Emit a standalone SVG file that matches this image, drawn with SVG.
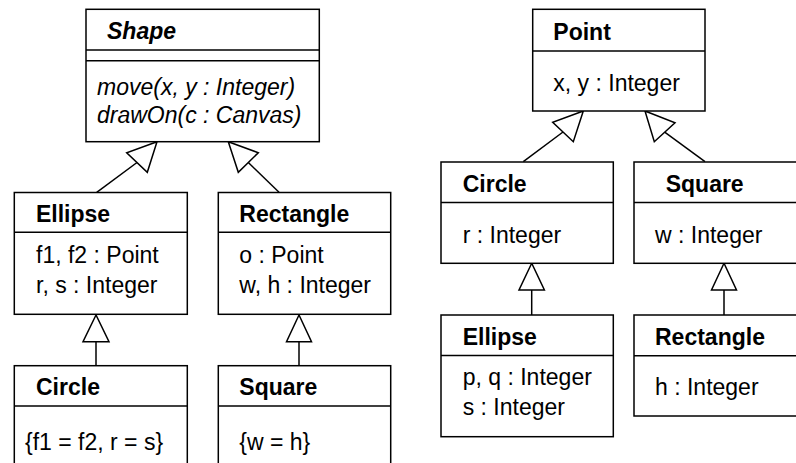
<svg xmlns="http://www.w3.org/2000/svg" width="796" height="463" viewBox="0 0 796 463">
<style>
.box{fill:#fff;stroke:#000;stroke-width:1.5}
.ln{stroke:#000;stroke-width:1.5;fill:none}
.tri{fill:#fff;stroke:#000;stroke-width:1.5;stroke-linejoin:miter}
text{font-family:"Liberation Sans",Arial,sans-serif;font-size:23px;fill:#000}
.t{font-weight:bold}
.i{font-style:italic}
</style>
<rect width="796" height="463" fill="#fff"/>
<g id="connectors">
<line class="ln" x1="137" y1="162.5" x2="96.7" y2="192.3"/>
<polygon class="tri" points="157,141.7 126.7,152.7 147.3,172.3"/>
<line class="ln" x1="248.3" y1="162.5" x2="279" y2="192.3"/>
<polygon class="tri" points="228.3,141.7 258.3,152.7 238.3,172.3"/>
<line class="ln" x1="96" y1="341.7" x2="96" y2="365.7"/>
<polygon class="tri" points="96,315 83,341.7 109,341.7"/>
<line class="ln" x1="299" y1="341.7" x2="299" y2="365.7"/>
<polygon class="tri" points="299,315 286.5,341.7 311.5,341.7"/>
<line class="ln" x1="563" y1="132" x2="523.3" y2="161.7"/>
<polygon class="tri" points="583.3,111 552.7,122.3 573.3,141.7"/>
<line class="ln" x1="664.7" y1="132.2" x2="705" y2="161.7"/>
<polygon class="tri" points="645,111 675,122.7 654.3,141.7"/>
<line class="ln" x1="531.7" y1="290" x2="531.7" y2="315"/>
<polygon class="tri" points="531.7,263.3 519,290 544.4,290"/>
<line class="ln" x1="724" y1="290" x2="724" y2="315"/>
<polygon class="tri" points="724,263.3 711.5,290 736.5,290"/>
</g>
<g id="shape">
<rect class="box" x="86" y="9.3" width="233.3" height="132.4"/>
<line class="ln" x1="86" y1="50" x2="319.3" y2="50"/>
<line class="ln" x1="86" y1="60.7" x2="319.3" y2="60.7"/>
<text class="t i" x="107" y="39">Shape</text>
<text class="i" x="97" y="95">move(x, y : Integer)</text>
<text class="i" x="97" y="123">drawOn(c : Canvas)</text>
</g>
<g id="ellipse-left">
<rect class="box" x="14.3" y="192.5" width="173" height="121.8"/>
<line class="ln" x1="14.3" y1="232.3" x2="187.3" y2="232.3"/>
<text class="t" x="36" y="221.7">Ellipse</text>
<text x="36" y="263.3">f1, f2 : Point</text>
<text x="36" y="293.3">r, s : Integer</text>
</g>
<g id="rectangle-left">
<rect class="box" x="218.3" y="192.5" width="172.4" height="121.8"/>
<line class="ln" x1="218.3" y1="232.3" x2="390.7" y2="232.3"/>
<text class="t" x="239.3" y="221.7">Rectangle</text>
<text x="239.3" y="263.3">o : Point</text>
<text x="239.3" y="293.3">w, h : Integer</text>
</g>
<g id="circle-left">
<rect class="box" x="14.3" y="365.7" width="173" height="110"/>
<line class="ln" x1="14.3" y1="406" x2="187.3" y2="406"/>
<text class="t" x="36" y="395">Circle</text>
<text x="25" y="450">{f1 = f2, r = s}</text>
</g>
<g id="square-left">
<rect class="box" x="218.3" y="365.7" width="172.4" height="110"/>
<line class="ln" x1="218.3" y1="406" x2="390.7" y2="406"/>
<text class="t" x="239.3" y="395">Square</text>
<text x="239.3" y="450">{w = h}</text>
</g>
<g id="point">
<rect class="box" x="532.7" y="9.3" width="172.3" height="101.7"/>
<line class="ln" x1="532.7" y1="51" x2="705" y2="51"/>
<text class="t" x="553.3" y="40">Point</text>
<text x="553.3" y="90.7">x, y : Integer</text>
</g>
<g id="circle-right">
<rect class="box" x="441" y="162" width="172.3" height="101.3"/>
<line class="ln" x1="441" y1="202.5" x2="613.3" y2="202.5"/>
<text class="t" x="462.7" y="191.7">Circle</text>
<text x="462.7" y="243.3">r : Integer</text>
</g>
<g id="square-right">
<rect class="box" x="634" y="162" width="172.3" height="101.3"/>
<line class="ln" x1="634" y1="202.5" x2="806" y2="202.5"/>
<text class="t" x="665.7" y="191.7">Square</text>
<text x="655" y="243.3">w : Integer</text>
</g>
<g id="ellipse-right">
<rect class="box" x="441" y="315" width="172.3" height="121.7"/>
<line class="ln" x1="441" y1="355.5" x2="613.3" y2="355.5"/>
<text class="t" x="462.7" y="345">Ellipse</text>
<text x="462.7" y="385">p, q : Integer</text>
<text x="462.7" y="415">s : Integer</text>
</g>
<g id="rectangle-right">
<rect class="box" x="634" y="315" width="172.3" height="101"/>
<line class="ln" x1="634" y1="355.8" x2="806" y2="355.8"/>
<text class="t" x="655" y="345">Rectangle</text>
<text x="655" y="395">h : Integer</text>
</g>
</svg>
